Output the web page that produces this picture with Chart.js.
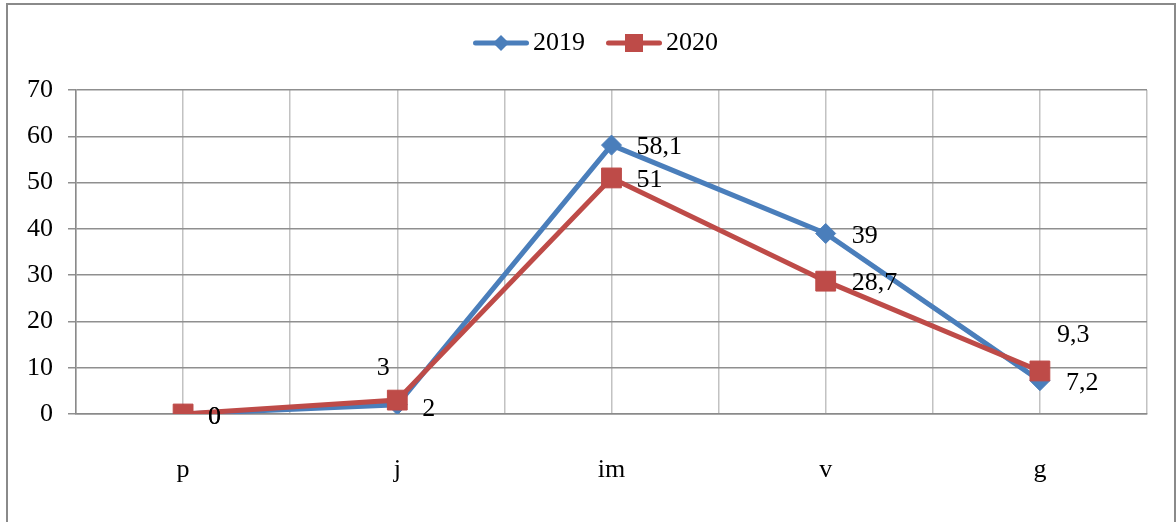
<!DOCTYPE html>
<html>
<head>
<meta charset="utf-8">
<script src="https://cdn.jsdelivr.net/npm/chart.js@4"></script>
<style>
  html, body { margin: 0; padding: 0; background: #ffffff; }
  #wrap { width: 1176px; height: 522px; position: relative; }
</style>
</head>
<body>
<div id="wrap"><canvas id="chart" width="1176" height="522"></canvas></div>
<script>
// ---- data ----
const categories = ['p', 'j', 'im', 'v', 'g'];
const seriesNames = ['2019', '2020'];
const values2019 = [0, 2, 58.1, 39, 7.2];
const values2020 = [0, 3, 51, 28.7, 9.3];
const yMin = 0, yMax = 70, yStep = 10;

// ---- styling ----
const FONT = "'Liberation Serif', 'Times New Roman', serif";
const BLUE = '#4a7ebb';
const RED = '#be4b48';

// value label placement, relative to each point (pixels)
const labelPlacement = [
  [{dx: 25, dy: 3}, {dx: 25, dy: 4}, {dx: 25, dy: 2}, {dx: 26, dy: 3}, {dx: 26, dy: 2}],
  [{dx: 25, dy: 3}, {dx: -14, dy: -32, align: 'center'}, {dx: 25, dy: 2}, {dx: 26, dy: 2}, {dx: 17, dy: -36}]
];

function toPoints(values) {
  return values.map((v, i) => ({x: i, y: v}));
}

function formatValue(v) {
  return String(v).replace('.', ',');
}

// legend icon: line segment with the series marker in the middle
function makeLegendIcon(color, shape) {
  const c = document.createElement('canvas');
  c.width = 56; c.height = 22;
  const g = c.getContext('2d');
  g.strokeStyle = color; g.lineWidth = 5; g.lineCap = 'round';
  g.beginPath(); g.moveTo(2.5, 11); g.lineTo(53.5, 11); g.stroke();
  g.fillStyle = color;
  if (shape === 'diamond') {
    g.beginPath(); g.moveTo(28, 3); g.lineTo(36, 11); g.lineTo(28, 19); g.lineTo(20, 11); g.closePath(); g.fill();
  } else {
    g.fillRect(19, 2, 18, 18);
  }
  return c;
}
const legendIcons = [makeLegendIcon(BLUE, 'diamond'), makeLegendIcon(RED, 'square')];

// empty layout boxes: gap under the legend and margin right of the plot
function spacerBox(position, size, weight) {
  return {
    position, weight, fullSize: false,
    options: {},
    left: 0, top: 0, right: 0, bottom: 0, width: 0, height: 0,
    isHorizontal() { return position === 'top' || position === 'bottom'; },
    update(maxWidth, maxHeight) {
      if (this.isHorizontal()) { this.width = maxWidth; this.height = size; }
      else { this.width = size; this.height = maxHeight; }
    },
    draw() {}
  };
}
const spacerPlugin = {
  id: 'spacers',
  beforeInit(chart) {
    Chart.layouts.addBox(chart, spacerBox('top', 24, 500));
    Chart.layouts.addBox(chart, spacerBox('right', 29, 0));
  }
};

// outer frame around the whole chart
const framePlugin = {
  id: 'frame',
  beforeDraw(chart) {
    const ctx = chart.ctx;
    ctx.save();
    ctx.strokeStyle = '#8a8a8a';
    ctx.lineWidth = 2;
    ctx.strokeRect(7, 4, 1168, 620);
    ctx.restore();
  }
};

// value labels next to each point
const valueLabelPlugin = {
  id: 'valueLabels',
  afterDatasetsDraw(chart) {
    const ctx = chart.ctx;
    ctx.save();
    ctx.font = '26px ' + FONT;
    ctx.fillStyle = '#000000';
    ctx.textBaseline = 'middle';
    chart.data.datasets.forEach((ds, di) => {
      const meta = chart.getDatasetMeta(di);
      meta.data.forEach((pt, i) => {
        const place = labelPlacement[di][i];
        ctx.textAlign = place.align || 'left';
        ctx.fillText(formatValue(ds.data[i].y), pt.x + place.dx, pt.y + place.dy);
      });
    });
    ctx.restore();
  }
};

Chart.defaults.font.family = FONT;
Chart.defaults.color = '#000000';

new Chart(document.getElementById('chart'), {
  type: 'line',
  data: {
    datasets: [
      {
        label: seriesNames[0],
        data: toPoints(values2019),
        borderColor: BLUE,
        backgroundColor: BLUE,
        borderWidth: 5,
        pointStyle: 'rectRot',
        pointRadius: 10,
        pointHoverRadius: 10,
        pointBorderWidth: 1,
        tension: 0,
        order: 1
      },
      {
        label: seriesNames[1],
        data: toPoints(values2020),
        borderColor: RED,
        backgroundColor: RED,
        borderWidth: 5,
        pointStyle: 'rect',
        pointRadius: 14,
        pointHoverRadius: 14,
        pointBorderWidth: 1,
        tension: 0,
        order: 0
      }
    ]
  },
  options: {
    responsive: false,
    animation: false,
    devicePixelRatio: 1,
    layout: { padding: { top: 0, left: 24, right: 0, bottom: 0 } },
    plugins: {
      tooltip: { enabled: false },
      legend: {
        position: 'top',
        reverse: true,
        labels: {
          usePointStyle: true,
          pointStyleWidth: 38,
          padding: 30,
          font: { size: 26, family: FONT },
          color: '#000000',
          generateLabels(chart) {
            const items = Chart.defaults.plugins.legend.labels.generateLabels(chart);
            items.forEach(it => { it.pointStyle = legendIcons[it.datasetIndex]; });
            return items;
          }
        }
      }
    },
    scales: {
      x: {
        type: 'linear',
        min: -0.5,
        max: categories.length - 0.5,
        afterFit(scale) { scale.height = 108; },
        ticks: {
          stepSize: 0.5,
          autoSkip: false,
          maxRotation: 0,
          padding: 11,
          font: { size: 26, family: FONT },
          color: '#000000',
          callback(v) { return Number.isInteger(v) ? categories[v] : ''; }
        },
        grid: { color: '#c2c2c2', lineWidth: 1.5, drawTicks: true, tickLength: 30, tickColor: 'rgba(0,0,0,0)' },
        border: { display: true, color: '#8a8a8a', width: 1.5 }
      },
      y: {
        min: yMin,
        max: yMax,
        afterFit(scale) { scale.width = 52; },
        ticks: {
          stepSize: yStep,
          padding: 15,
          font: { size: 26, family: FONT },
          color: '#000000'
        },
        grid: { color: '#8f8f8f', lineWidth: 1.5, tickLength: 8, drawTicks: true },
        border: { display: true, color: '#8a8a8a', width: 1.5 }
      }
    }
  },
  plugins: [spacerPlugin, framePlugin, valueLabelPlugin]
});
</script>
</body>
</html>
